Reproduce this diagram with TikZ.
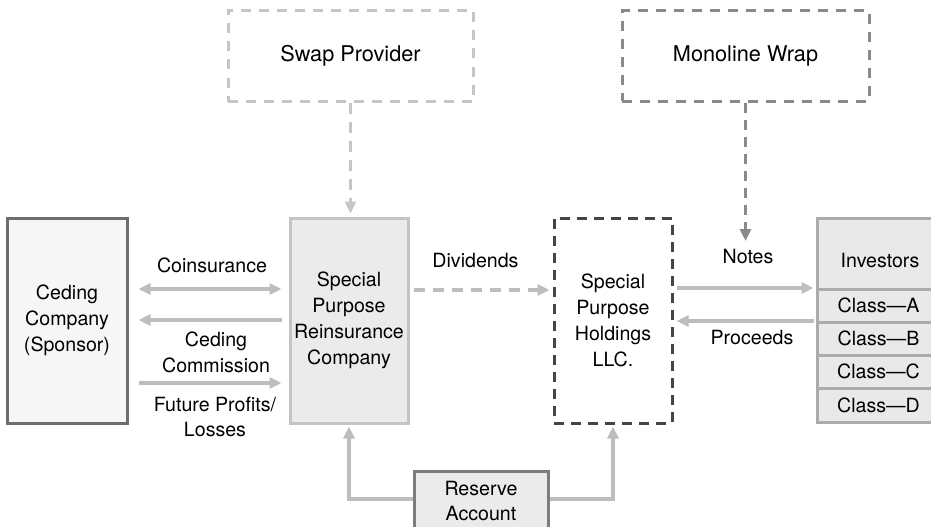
\documentclass[tikz,border=0pt]{standalone}
\usepackage{fontspec}
\setmainfont{TeX Gyre Heros}
\usetikzlibrary{arrows.meta}

% palette
\definecolor{cedefill}{HTML}{F6F6F6}
\definecolor{cededraw}{HTML}{6E6E6E}
\definecolor{sprcfill}{HTML}{EBEBEB}
\definecolor{sprcdraw}{HTML}{C4C4C4}
\definecolor{invfill}{HTML}{E9E9E9}
\definecolor{invdraw}{HTML}{ABABAB}
\definecolor{resfill}{HTML}{EBEBEB}
\definecolor{resdraw}{HTML}{7D7D7D}
\definecolor{holddraw}{HTML}{454545}
\definecolor{swapdraw}{HTML}{C6C6C6}
\definecolor{monodraw}{HTML}{8A8A8A}
\definecolor{flowgray}{HTML}{BDBDBD}

\newcommand{\diagfont}{\fontsize{19.6pt}{25.8pt}\selectfont}
\newcommand{\headfont}{\fontsize{21.7pt}{26pt}\selectfont}

\begin{document}
\begin{tikzpicture}[x=1pt,y=-1pt,
  box/.style={rectangle, inner sep=0pt, align=center, font=\diagfont, line width=3pt},
  topbox/.style={rectangle, inner sep=0pt, align=center, font=\headfont, line width=3pt,
    fill=white, dash pattern=on 10pt off 8pt},
  rowbox/.style={rectangle, inner sep=0pt, font=\diagfont, line width=3pt,
    draw=invdraw, fill=invfill, minimum width=123pt},
  lbl/.style={inner sep=0pt, align=center, font=\diagfont},
  tip/.style={-{Triangle[length=12pt,width=11pt]}},
  flow/.style={draw=flowgray, line width=3.3pt},
  dflow/.style={flow, dash pattern=on 11pt off 8pt},
]
\clip (0,0) rectangle (931,527);

% upper providers
\node[topbox, draw=swapdraw, minimum width=245pt, minimum height=91pt] (swap) at (350.5,56) {Swap Provider};
\node[topbox, draw=monodraw, minimum width=247pt, minimum height=90pt] (mono) at (745.5,56) {Monoline Wrap};

% main row
\node[box, draw=cededraw, fill=cedefill, minimum width=120pt, minimum height=205pt] (ceding) at (67,320.5)
  {Ceding\\Company\\(Sponsor)};
\node[box, draw=sprcdraw, fill=sprcfill, minimum width=118pt, minimum height=205pt] (sprc) at (349,320.5)
  {Special\\Purpose\\Reinsurance\\Company};
\node[box, draw=holddraw, fill=white, line width=3pt, dash pattern=on 10pt off 7pt,
  minimum width=118pt, minimum height=205pt] (hold) at (613,320.5)
  {Special\\Purpose\\Holdings\\LLC.};

% investors and their classes
\node[rowbox, minimum height=71pt] (inv) at (878.5,253.5) {};
\node[lbl] (invtext) at (880,261) {Investors};
\node[rowbox, minimum height=33pt] (clA) at (878.5,305.5) {Class---A};
\node[rowbox, minimum height=33pt] (clB) at (878.5,338.5) {Class---B};
\node[rowbox, minimum height=33pt] (clC) at (878.5,371.5) {Class---C};
\node[rowbox, minimum height=34pt] (clD) at (878.5,405) {Class---D};

% reserve account
\node[box, draw=resdraw, fill=resfill, minimum width=134pt, minimum height=60pt] (reserve) at (481,501)
  {Reserve\\Account};

% flow labels
\node[lbl] (lcoins) at (212,265) {Coinsurance};
\node[lbl] (lcomm) at (216,352) {Ceding\\Commission};
\node[lbl] (lfut) at (215,417) {Future Profits/\\Losses};
\node[lbl] (ldiv) at (475.5,261) {Dividends};
\node[lbl] (lnotes) at (748,256) {Notes};
\node[lbl] (lproc) at (752,337) {Proceeds};

% flows between ceding company and reinsurer
\draw[flow, {Triangle[length=12pt,width=11pt]}-{Triangle[length=12pt,width=11pt]},
  shorten <=10pt, shorten >=7pt] (ceding.east |- 0,289) -- (sprc.west |- 0,289);
\draw[flow, tip, shorten <=7pt, shorten >=10pt] (sprc.west |- 0,320) -- (ceding.east |- 0,320);
\draw[flow, tip, shorten <=10pt, shorten >=7pt] (ceding.east |- 0,383) -- (sprc.west |- 0,383);

% dividends, notes and proceeds
\draw[dflow, tip, shorten <=4pt, shorten >=3pt] (sprc.east |- 0,290) -- (hold.west |- 0,290);
\draw[flow, tip, shorten <=3pt, shorten >=2pt] (hold.east |- 0,288) -- (inv.west |- 0,288);
\draw[flow, tip, shorten <=2pt, shorten >=3pt] (inv.west |- 0,321) -- (hold.east |- 0,321);

% provider links
\draw[dflow, draw=swapdraw, tip, shorten >=3pt] (swap.south) -- (swap.south |- sprc.north);
\coordinate (monoend) at (745.5,241);
\draw[dflow, draw=monodraw, tip, dash pattern=on 10pt off 7pt] (mono.south) -- (monoend);

% reserve account feeds
\draw[flow, tip, shorten >=2pt] (reserve.west |- 0,499) -| (sprc.south);
\draw[flow, tip, shorten >=2pt] (reserve.east |- 0,499) -| (hold.south);
\end{tikzpicture}
\end{document}
